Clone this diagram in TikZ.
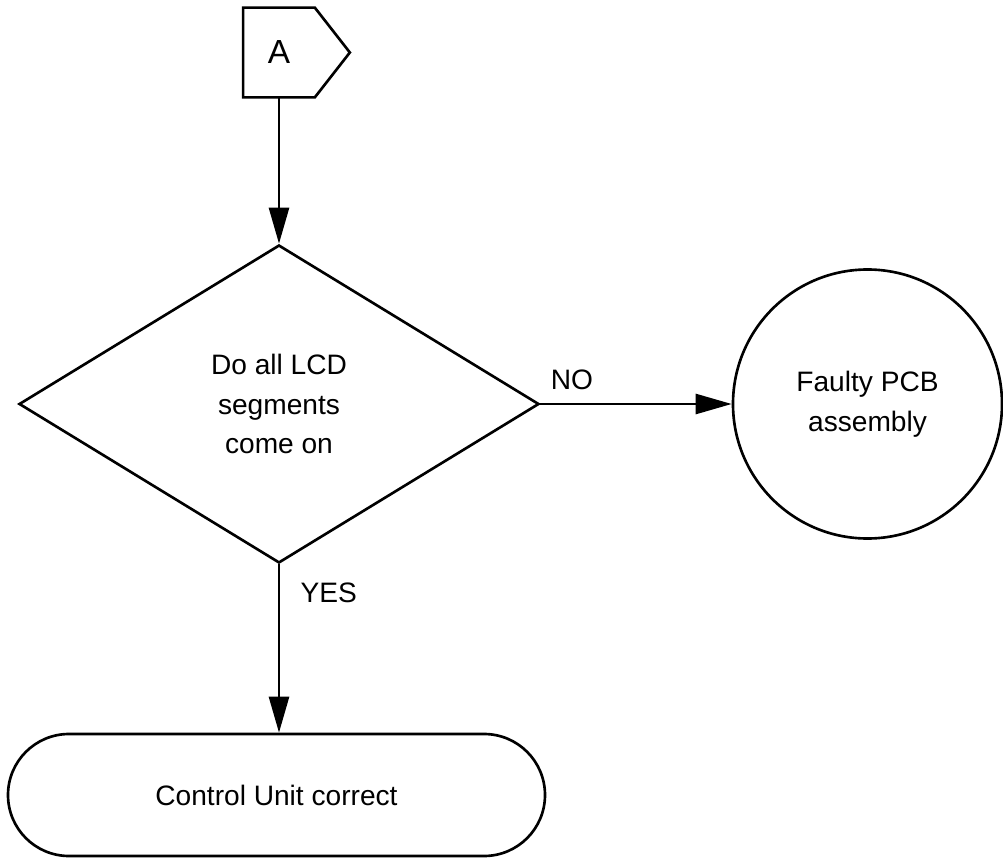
\documentclass[tikz,border=0pt]{standalone}
\usepackage{fontspec}
\setmainfont{Liberation Sans}
\usetikzlibrary{calc, shapes.geometric, shapes.misc, arrows.meta, positioning}

\begin{document}
\begin{tikzpicture}[
    font=\fontsize{16}{22.5}\selectfont,
    connector_node/.style={
        rectangle, draw=none, minimum width=1.42cm, minimum height=1.78cm,
        inner sep=0pt, font=\fontsize{19}{22}\selectfont
    },
    decision/.style={
        diamond, draw=black, line width=1.5pt, fill=white,
        minimum width=10.4cm, minimum height=6.36cm,
        align=center, inner sep=0pt
    },
    result/.style={
        circle, draw=black, line width=1.5pt, fill=white,
        minimum size=5.38cm, align=center, inner sep=0pt
    },
    terminal/.style={
        rounded rectangle, draw=black, line width=1.5pt, fill=white,
        minimum width=10.74cm, minimum height=2.44cm,
        align=center, inner sep=0pt
    },
    arrow/.style={
        -{Triangle[length=0.72cm, width=0.4cm]}, line width=1.5pt, draw=black
    }
]
    \useasboundingbox (0, 0) rectangle (20.06, -17.18);

    % =========================================================================
    % OFF-PAGE CONNECTOR A (TOP)
    % =========================================================================
    \node [connector_node] (conn_a) at (5.58, -1.05) {A};
    \draw [line width=1.5pt, line join=miter]
        (conn_a.north west) -- (conn_a.north east)
        -- ($(conn_a.east)+(0.7, 0)$)
        -- (conn_a.south east) -- (conn_a.south west) -- cycle;

    % =========================================================================
    % DECISION AND OUTCOMES
    % =========================================================================
    \node [decision] (lcd_check) at (5.58, -8.08) {Do all LCD\\segments\\come on};
    \node [result] (faulty_pcb) at (17.35, -8.08) {Faulty PCB\\assembly};
    \node [terminal] (unit_ok) at (5.53, -15.9) {Control Unit correct};

    % =========================================================================
    % FLOWS
    % =========================================================================
    % A to decision
    \draw [arrow] (conn_a.south) -- (lcd_check.north);

    % NO branch
    \draw [arrow] (lcd_check.east) -- node [pos=0.165, above=0.15cm] (lbl_no) {NO} (faulty_pcb.west);

    % YES branch
    \draw [arrow] (lcd_check.south) -- node [pos=0.17, right=0.29cm] (lbl_yes) {YES} (lcd_check.south |- unit_ok.north);

\end{tikzpicture}
\end{document}
